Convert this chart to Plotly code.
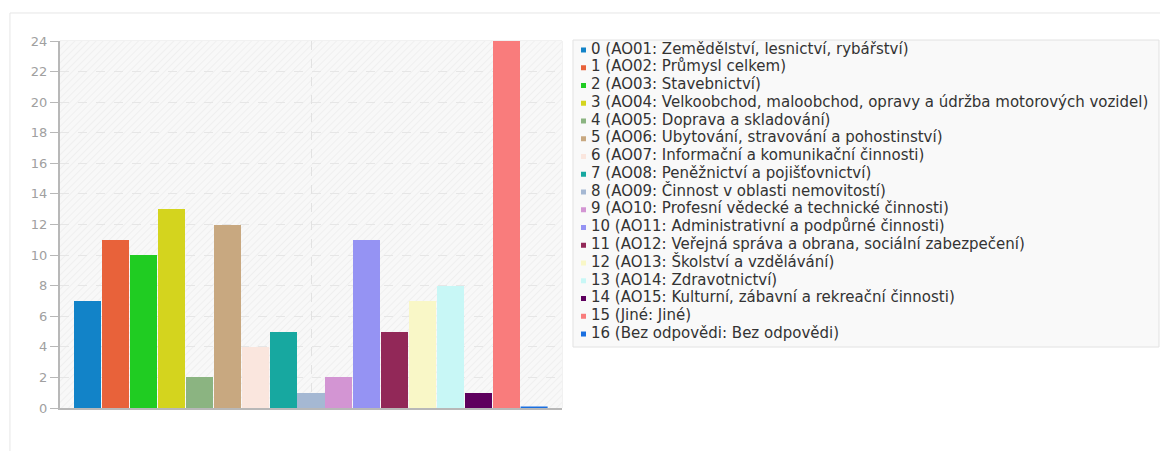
import base64
import plotly.graph_objects as go

# categories and counts
codes = ["AO01", "AO02", "AO03", "AO04", "AO05", "AO06", "AO07", "AO08", "AO09",
         "AO10", "AO11", "AO12", "AO13", "AO14", "AO15", "Jiné", "Bez odpovědi"]
names = ["Zemědělství, lesnictví, rybářství", "Průmysl celkem", "Stavebnictví",
         "Velkoobchod, maloobchod, opravy a údržba motorových vozidel",
         "Doprava a skladování", "Ubytování, stravování a pohostinství",
         "Informační a komunikační činnosti", "Peněžnictví a pojišťovnictví",
         "Činnost v oblasti nemovitostí", "Profesní vědecké a technické činnosti",
         "Administrativní a podpůrné činnosti",
         "Veřejná správa a obrana, sociální zabezpečení", "Školství a vzdělávání",
         "Zdravotnictví", "Kulturní, zábavní a rekreační činnosti", "Jiné",
         "Bez odpovědi"]
counts = [7, 11, 10, 13, 2, 12, 4, 5, 1, 2, 11, 5, 7, 8, 1, 24, 0]
colors = ["#1283c8", "#e8623a", "#20cc22", "#d4d41e", "#8bb481", "#c8a880",
          "#fae6de", "#17a8a0", "#a5b8d3", "#d395d3", "#9593f3", "#922858",
          "#f9f7c7", "#c8f7f6", "#5e005e", "#f97c7c", "#1a6fe0"]

idx = list(range(len(counts)))
labels = [f"{i} ({c}: {n})" for i, c, n in zip(idx, codes, names)]
bar_w = 0.97

# faint diagonal hatching behind the bars
hatch_svg = (
    "<svg xmlns='http://www.w3.org/2000/svg' width='502' height='367'>"
    "<defs><pattern id='h' width='5' height='5' patternUnits='userSpaceOnUse' "
    "patternTransform='rotate(45)'><line x1='0' y1='0' x2='0' y2='5' "
    "stroke='#ececec' stroke-width='1.5'/></pattern></defs>"
    "<rect width='100%' height='100%' fill='#f8f8f8'/>"
    "<rect width='100%' height='100%' fill='url(#h)'/></svg>"
)
hatch_src = "data:image/svg+xml;base64," + base64.b64encode(hatch_svg.encode()).decode()

fig = go.Figure()
fig.add_trace(go.Bar(x=idx, y=counts, width=bar_w, marker_color=colors,
                     marker_line_width=0, showlegend=False, hoverinfo="x+y"))

# zero-valued categories still get a thin stroke on the baseline
for i, v in zip(idx, counts):
    if v == 0:
        fig.add_trace(go.Scatter(x=[i - bar_w / 2, i + bar_w / 2], y=[v, v], mode="lines",
                                 line=dict(color=colors[i], width=3), showlegend=False,
                                 cliponaxis=False, hoverinfo="skip"))

# legend drawn as its own little subplot
fig.add_trace(go.Scatter(x=[0] * len(idx), y=idx, mode="markers",
                         marker=dict(symbol="square", size=5, color=colors),
                         xaxis="x2", yaxis="y2", cliponaxis=False, showlegend=False,
                         hoverinfo="skip"))
fig.add_trace(go.Scatter(x=[0.013] * len(idx), y=idx, mode="text", text=labels,
                         textposition="middle right",
                         textfont=dict(family="DejaVu Sans", size=15, color="#333333"),
                         xaxis="x2", yaxis="y2", cliponaxis=False, showlegend=False,
                         hoverinfo="skip"))

fig.update_layout(
    width=1152, height=443,
    margin=dict(l=52, r=0, t=33, b=43),
    paper_bgcolor="white", plot_bgcolor="rgba(0,0,0,0)",
    font=dict(family="DejaVu Sans", size=13, color="#999999"),
    bargap=0,
    xaxis=dict(domain=[0, 0.45636], range=[-1, 17], showticklabels=False, ticks="",
               tickvals=[8], showgrid=True, gridcolor="#e2e2e2", griddash="dash",
               zeroline=False, showline=True, linecolor="#b8b8b8", linewidth=2),
    yaxis=dict(domain=[0, 1], range=[0, 24], dtick=2, ticks="outside", ticklen=8,
               tickcolor="#b8b8b8", showgrid=True, gridcolor="#e6e6e6", griddash="dash",
               zeroline=False, showline=True, linecolor="#b8b8b8", linewidth=2,
               tickfont=dict(color="#a0a0a0", size=13)),
    xaxis2=dict(domain=[0.4759, 1.0], range=[0, 1], visible=False),
    yaxis2=dict(domain=[0.1774, 0.9997], range=[16.5, -0.5], visible=False),
    images=[dict(source=hatch_src, xref="x domain", yref="y domain", x=0, y=1,
                 sizex=1, sizey=1, sizing="stretch", xanchor="left", yanchor="top",
                 layer="below")],
    shapes=[
        # card
        dict(type="rect", xref="paper", yref="paper", x0=-0.0455, x1=1.02, y0=-0.2,
             y1=1.0763, line=dict(color="#e6e6e6", width=1), layer="below"),
        # legend box
        dict(type="rect", xref="paper", yref="paper", x0=0.46636, x1=0.99909, y0=0.1662,
             y1=1.0027, line=dict(color="#e2e2e2", width=1), fillcolor="#f9f9f9",
             layer="below"),
        # plot border
        dict(type="rect", xref="x domain", yref="y domain", x0=0, x1=1, y0=0, y1=1,
             line=dict(color="#e2e2e2", width=1), layer="below"),
    ],
)

fig.write_html("out.html")
